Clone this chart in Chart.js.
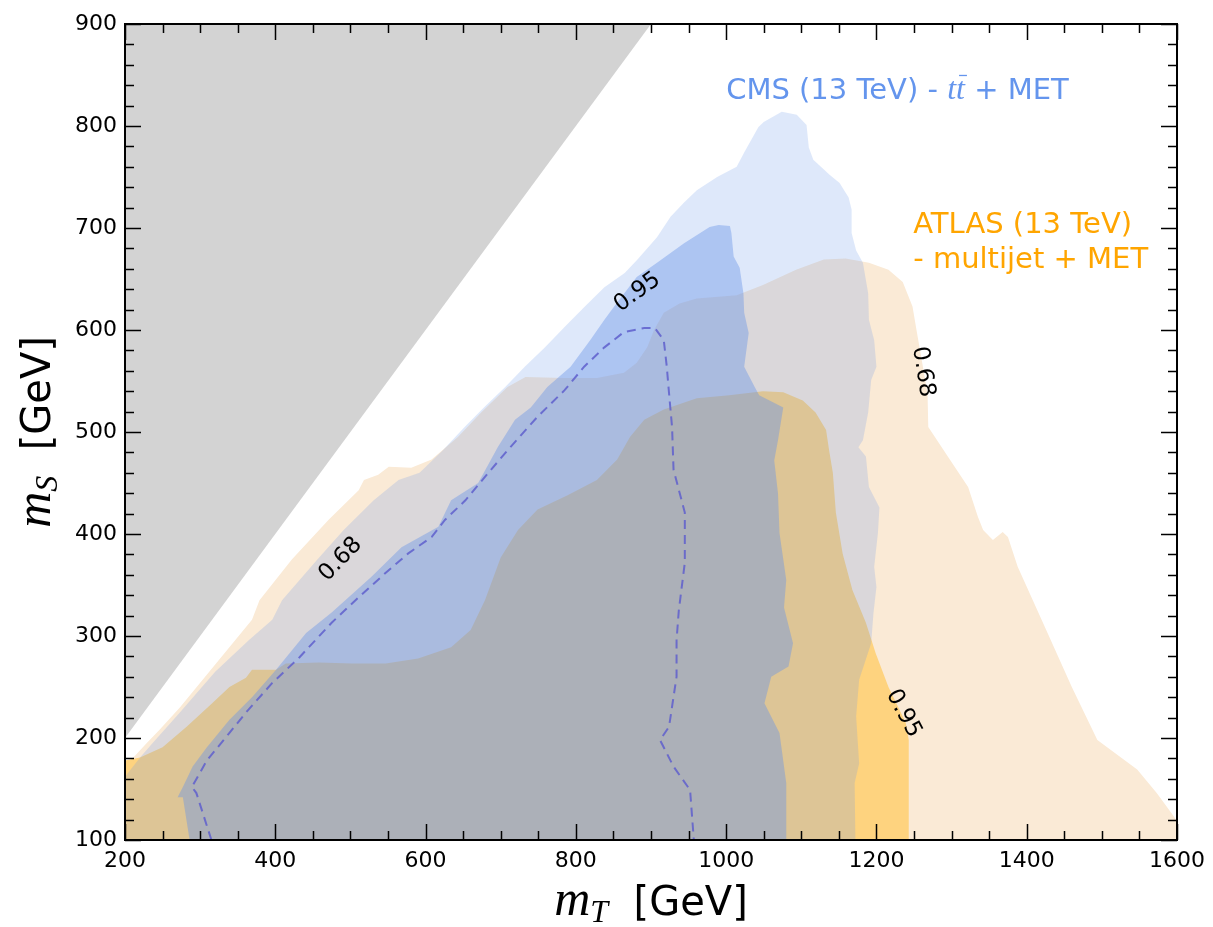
<!DOCTYPE html>
<html>
<head>
<meta charset="utf-8">
<script src="https://cdn.jsdelivr.net/npm/chart.js@4"></script>
<style>
  html, body { margin: 0; padding: 0; background: #fff; }
</style>
</head>
<body>
<canvas id="chart" width="1213" height="927"></canvas>
<script>
// m_T [GeV], m_S [GeV] pairs
const excluded = [[200,200],[900,900],[200,900]];

const atlas68 = [[200,100],[200,172],[229,195],[246,208],[273,230],[369,316],[379,335],[422,375],[471,414],[511,443],
  [518,453],[537,458],[551,466],[581,465],[608,473],[643,495],[674,519],[709,544],[733,554],[785,553],[828,553],
  [864,558],[881,568],[895,583],[904,600],[917,617],[938,626],[961,631],[1014,634],[1049,644],[1093,659],[1130,669],
  [1159,670],[1190,666],[1216,659],[1235,647],[1248,623],[1254,597],[1268,538],[1269,505],[1295,476],[1322,446],
  [1335,417],[1342,404],[1355,394],[1368,402],[1375,397],[1388,368],[1424,309],[1460,250],[1494,198],[1547,169],
  [1573,146],[1593,126],[1610,108],[1610,100]];

const atlas95 = [[200,100],[200,178],[220,181],[250,191],[282,211],[316,234],[339,250],[361,259],[369,267],[401,267],
  [414,273],[458,274],[502,273],[547,273],[590,278],[634,289],[660,306],[679,335],[700,377],[723,404],[749,424],
  [789,438],[828,453],[855,473],[872,495],[891,512],[917,522],[961,533],[1004,536],[1049,540],[1076,539],[1102,531],
  [1119,519],[1133,502],[1137,482],[1142,460],[1146,421],[1155,381],[1168,345],[1186,313],[1199,283],[1216,250],
  [1239,215],[1243,198],[1243,100]];

const cms68 = [[200,100],[200,162],[220,181],[238,196],[273,225],[320,265],[365,296],[396,316],[409,335],[456,375],
  [491,404],[531,433],[564,453],[592,460],[623,482],[652,505],[679,525],[706,544],[732,564],[759,583],[785,603],
  [812,623],[838,642],[865,656],[882,669],[908,691],[926,711],[944,725],[961,737],[988,750],[1014,760],[1024,774],
  [1043,799],[1050,804],[1074,814],[1094,811],[1107,801],[1110,779],[1116,767],[1138,752],[1151,744],[1163,730],
  [1167,718],[1167,695],[1173,678],[1182,666],[1189,636],[1190,610],[1197,590],[1200,564],[1193,551],[1189,519],
  [1182,492],[1176,485],[1186,476],[1190,446],[1204,426],[1202,401],[1197,368],[1200,348],[1196,322],[1193,293],
  [1177,257],[1173,221],[1177,175],[1171,156],[1172,100]];

const cms95 = [[286,100],[277,142],[270,142],[277,152],[290,172],[309,191],[339,218],[369,240],[401,267],[441,303],
  [475,323],[528,358],[568,387],[617,407],[634,433],[670,450],[696,485],[719,512],[740,524],[762,544],[793,564],
  [819,590],[838,610],[851,623],[881,652],[908,666],[944,685],[978,701],[990,703],[1005,702],[1007,695],[1010,672],
  [1018,661],[1023,636],[1024,617],[1030,597],[1024,564],[1038,544],[1044,536],[1076,524],[1069,492],[1064,472],
  [1069,440],[1071,401],[1080,355],[1077,328],[1089,293],[1083,270],[1060,260],[1051,234],[1071,205],[1080,156],
  [1080,100]];

const cms95Expected = [[315,100],[295,146],[289,152],[309,178],[339,205],[361,225],[396,254],[432,279],[475,313],
  [511,338],[547,362],[577,381],[608,397],[626,414],[653,433],[679,456],[709,482],[749,515],[785,541],[811,564],
  [838,583],[864,598],[891,602],[905,602],[917,590],[921,564],[924,538],[928,505],[930,463],[945,421],[945,372],
  [937,325],[934,296],[934,260],[924,211],[912,198],[930,172],[952,149],[957,100]];

// contour labels: text, m_T, m_S, angle
const contourLabels = [
  ['0.68', 487, 375, -46],
  ['0.95', 882, 637, -36],
  ['0.68', 1262, 559, 81],
  ['0.95', 1236, 224, 62]
];

const xTicks = [200, 400, 600, 800, 1000, 1200, 1400, 1600];
const yTicks = [100, 200, 300, 400, 500, 600, 700, 800, 900];

const pts = arr => arr.map(p => ({x: p[0], y: p[1]}));
const region = (data, color, order) => ({
  data: pts(data), showLine: true, fill: 'shape', backgroundColor: color,
  borderColor: 'transparent', borderWidth: 0, pointRadius: 0, order: order
});

const SERIF = '"Liberation Serif", "DejaVu Serif", serif';
const SANS = '"DejaVu Sans", sans-serif';

function drawRich(ctx, parts, x, y, align) {
  let w = 0;
  parts.forEach(p => { ctx.font = p.font; p.w = ctx.measureText(p.text).width; w += p.w; });
  let cx = align === 'center' ? x - w / 2 : x;
  parts.forEach(p => {
    ctx.font = p.font;
    ctx.fillText(p.text, cx, y + (p.dy || 0));
    if (p.bar) {
      ctx.save();
      ctx.lineWidth = 1.3;
      ctx.beginPath();
      ctx.moveTo(cx + 3, y - p.bar);
      ctx.lineTo(cx + p.w + 2, y - p.bar);
      ctx.stroke();
      ctx.restore();
    }
    cx += p.w;
  });
}

const decor = {
  id: 'decor',
  afterDatasetsDraw(chart) {
    const {ctx, chartArea: a, scales: {x, y}} = chart;
    ctx.save();

    // contour labels
    ctx.fillStyle = '#000';
    ctx.font = '23px ' + SANS;
    ctx.textAlign = 'center';
    ctx.textBaseline = 'middle';
    contourLabels.forEach(l => {
      ctx.save();
      ctx.translate(x.getPixelForValue(l[1]), y.getPixelForValue(l[2]));
      ctx.rotate(l[3] * Math.PI / 180);
      ctx.fillText(l[0], 0, 0);
      ctx.restore();
    });

    // experiment labels
    ctx.textAlign = 'left';
    ctx.textBaseline = 'alphabetic';
    ctx.fillStyle = 'cornflowerblue';
    ctx.strokeStyle = 'cornflowerblue';
    drawRich(ctx, [
      {text: 'CMS (13 TeV) - ', font: '29px ' + SANS},
      {text: 't', font: 'italic 32px ' + SERIF},
      {text: 't', font: 'italic 32px ' + SERIF, bar: 24},
      {text: ' + MET', font: '29px ' + SANS}
    ], x.getPixelForValue(1000), y.getPixelForValue(826));
    ctx.fillStyle = 'orange';
    ctx.font = '29px ' + SANS;
    ctx.fillText('ATLAS (13 TeV)', x.getPixelForValue(1249), y.getPixelForValue(695));
    ctx.fillText('- multijet + MET', x.getPixelForValue(1249), y.getPixelForValue(661));

    // frame and inward ticks on all sides
    ctx.strokeStyle = '#000';
    ctx.lineWidth = 1.5;
    ctx.beginPath();
    for (let v = x.min; v <= x.max; v += 50) {
      const p = Math.round(x.getPixelForValue(v)) + 0.5;
      const len = v % 200 === 0 ? 16 : 9;
      ctx.moveTo(p, a.bottom); ctx.lineTo(p, a.bottom - len);
      ctx.moveTo(p, a.top); ctx.lineTo(p, a.top + len);
    }
    for (let v = y.min; v <= y.max; v += 20) {
      const p = Math.round(y.getPixelForValue(v)) + 0.5;
      const len = v % 100 === 0 ? 16 : 9;
      ctx.moveTo(a.left, p); ctx.lineTo(a.left + len, p);
      ctx.moveTo(a.right, p); ctx.lineTo(a.right - len, p);
    }
    ctx.stroke();
    ctx.lineWidth = 2;
    ctx.strokeRect(a.left, a.top, a.right - a.left, a.bottom - a.top);

    // axis titles
    ctx.fillStyle = '#000';
    drawRich(ctx, [
      {text: 'm', font: 'italic 50px ' + SERIF},
      {text: 'T', font: 'italic 32px ' + SERIF, dy: 7},
      {text: '  [GeV]', font: '40px ' + SANS}
    ], (a.left + a.right) / 2, 915, 'center');
    ctx.save();
    ctx.translate(50, (a.top + a.bottom) / 2);
    ctx.rotate(-Math.PI / 2);
    drawRich(ctx, [
      {text: 'm', font: 'italic 50px ' + SERIF},
      {text: 'S', font: 'italic 32px ' + SERIF, dy: 7},
      {text: '  [GeV]', font: '40px ' + SANS}
    ], 0, 0, 'center');
    ctx.restore();

    ctx.restore();
  }
};

Chart.defaults.color = '#000';
Chart.defaults.font.family = SANS;

new Chart(document.getElementById('chart'), {
  type: 'scatter',
  data: {
    datasets: [
      {data: pts(cms95Expected), showLine: true, fill: false, borderColor: 'rgba(95,95,205,0.85)',
       borderWidth: 2, borderDash: [9, 6], pointRadius: 0, order: 1},
      region(cms95, 'rgba(106,148,232,0.42)', 2),
      region(cms68, 'rgba(106,148,232,0.22)', 3),
      region(atlas95, 'rgb(254,211,127)', 4),
      region(atlas68, 'rgb(250,234,214)', 5),
      region(excluded, '#d3d3d3', 6)
    ]
  },
  options: {
    responsive: false,
    animation: false,
    events: [],
    layout: {padding: {top: 24, right: 32, left: 0, bottom: 0}},
    plugins: {legend: {display: false}, tooltip: {enabled: false}},
    scales: {
      x: {
        type: 'linear', min: 200, max: 1600,
        afterFit: s => { s.height = 87; },
        afterBuildTicks: s => { s.ticks = xTicks.map(v => ({value: v})); },
        grid: {display: false, drawTicks: false}, border: {display: false},
        ticks: {font: {size: 22}, padding: 8, maxRotation: 0, callback: v => String(v)}
      },
      y: {
        type: 'linear', min: 100, max: 900,
        afterFit: s => { s.width = 125; },
        afterBuildTicks: s => { s.ticks = yTicks.map(v => ({value: v})); },
        grid: {display: false, drawTicks: false}, border: {display: false},
        ticks: {font: {size: 22}, padding: 8, callback: v => String(v)}
      }
    }
  },
  plugins: [decor]
});
</script>
</body>
</html>
